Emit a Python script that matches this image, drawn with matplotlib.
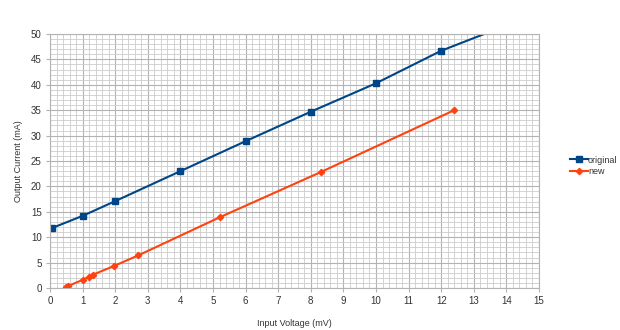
import matplotlib
matplotlib.use("Agg")
import matplotlib.pyplot as plt
from matplotlib.ticker import MultipleLocator

plt.rcParams['font.family'] = ['Liberation Sans', 'DejaVu Sans']

orig_x = [0.06, 1.0, 2.0, 4.0, 6.0, 8.0, 10.0, 12.0, 14.0]
orig_y = [11.8, 14.2, 17.1, 23.0, 28.9, 34.7, 40.3, 46.7, 51.7]
new_x = [0.5, 0.56, 1.0, 1.2, 1.31, 1.95, 2.7, 5.2, 8.3, 12.4]
new_y = [0.25, 0.4, 1.6, 2.2, 2.6, 4.3, 6.4, 13.9, 22.8, 35.0]
x_ticks = list(range(0, 16))
y_ticks = list(range(0, 51, 5))

fig = plt.figure(figsize=(6.2, 3.3), dpi=100)
ax = fig.add_axes([50/620, 42/330, 489/620, 254/330])

ax.plot(orig_x, orig_y, color='#004586', lw=1.5, marker='s', ms=4.8, label='original')
ax.plot(new_x, new_y, color='#ff420e', lw=1.5, marker='D', ms=3.2, label='new')

ax.set_xlim(0, 15)
ax.set_ylim(0, 50)
ax.set_xticks(x_ticks)
ax.set_yticks(y_ticks)
ax.xaxis.set_minor_locator(MultipleLocator(0.2))
ax.yaxis.set_minor_locator(MultipleLocator(1))
ax.grid(which='major', color='#b3b3b3', lw=0.8)
ax.grid(which='minor', color='#cccccc', lw=0.6)
ax.set_axisbelow(True)
for s in ax.spines.values():
    s.set_color('#b3b3b3')
    s.set_linewidth(0.8)
ax.tick_params(which='major', length=3, color='#b3b3b3', labelsize=7, labelcolor='#333333', pad=3)
ax.tick_params(which='minor', length=0)

ax.set_xlabel('Input Voltage (mV)', fontsize=6.5, color='#333333', labelpad=9)
ax.set_ylabel('Output Current (mA)', fontsize=6.5, color='#333333', labelpad=6)

leg = fig.legend(loc='center left', bbox_to_anchor=(570/620, 1 - 166/330), frameon=False,
                 fontsize=6.5, handlelength=2.0, handletextpad=0.0, labelspacing=0.3,
                 borderaxespad=0, borderpad=0)
for t in leg.get_texts():
    t.set_color('#333333')

fig.savefig('out.png', dpi=100)
